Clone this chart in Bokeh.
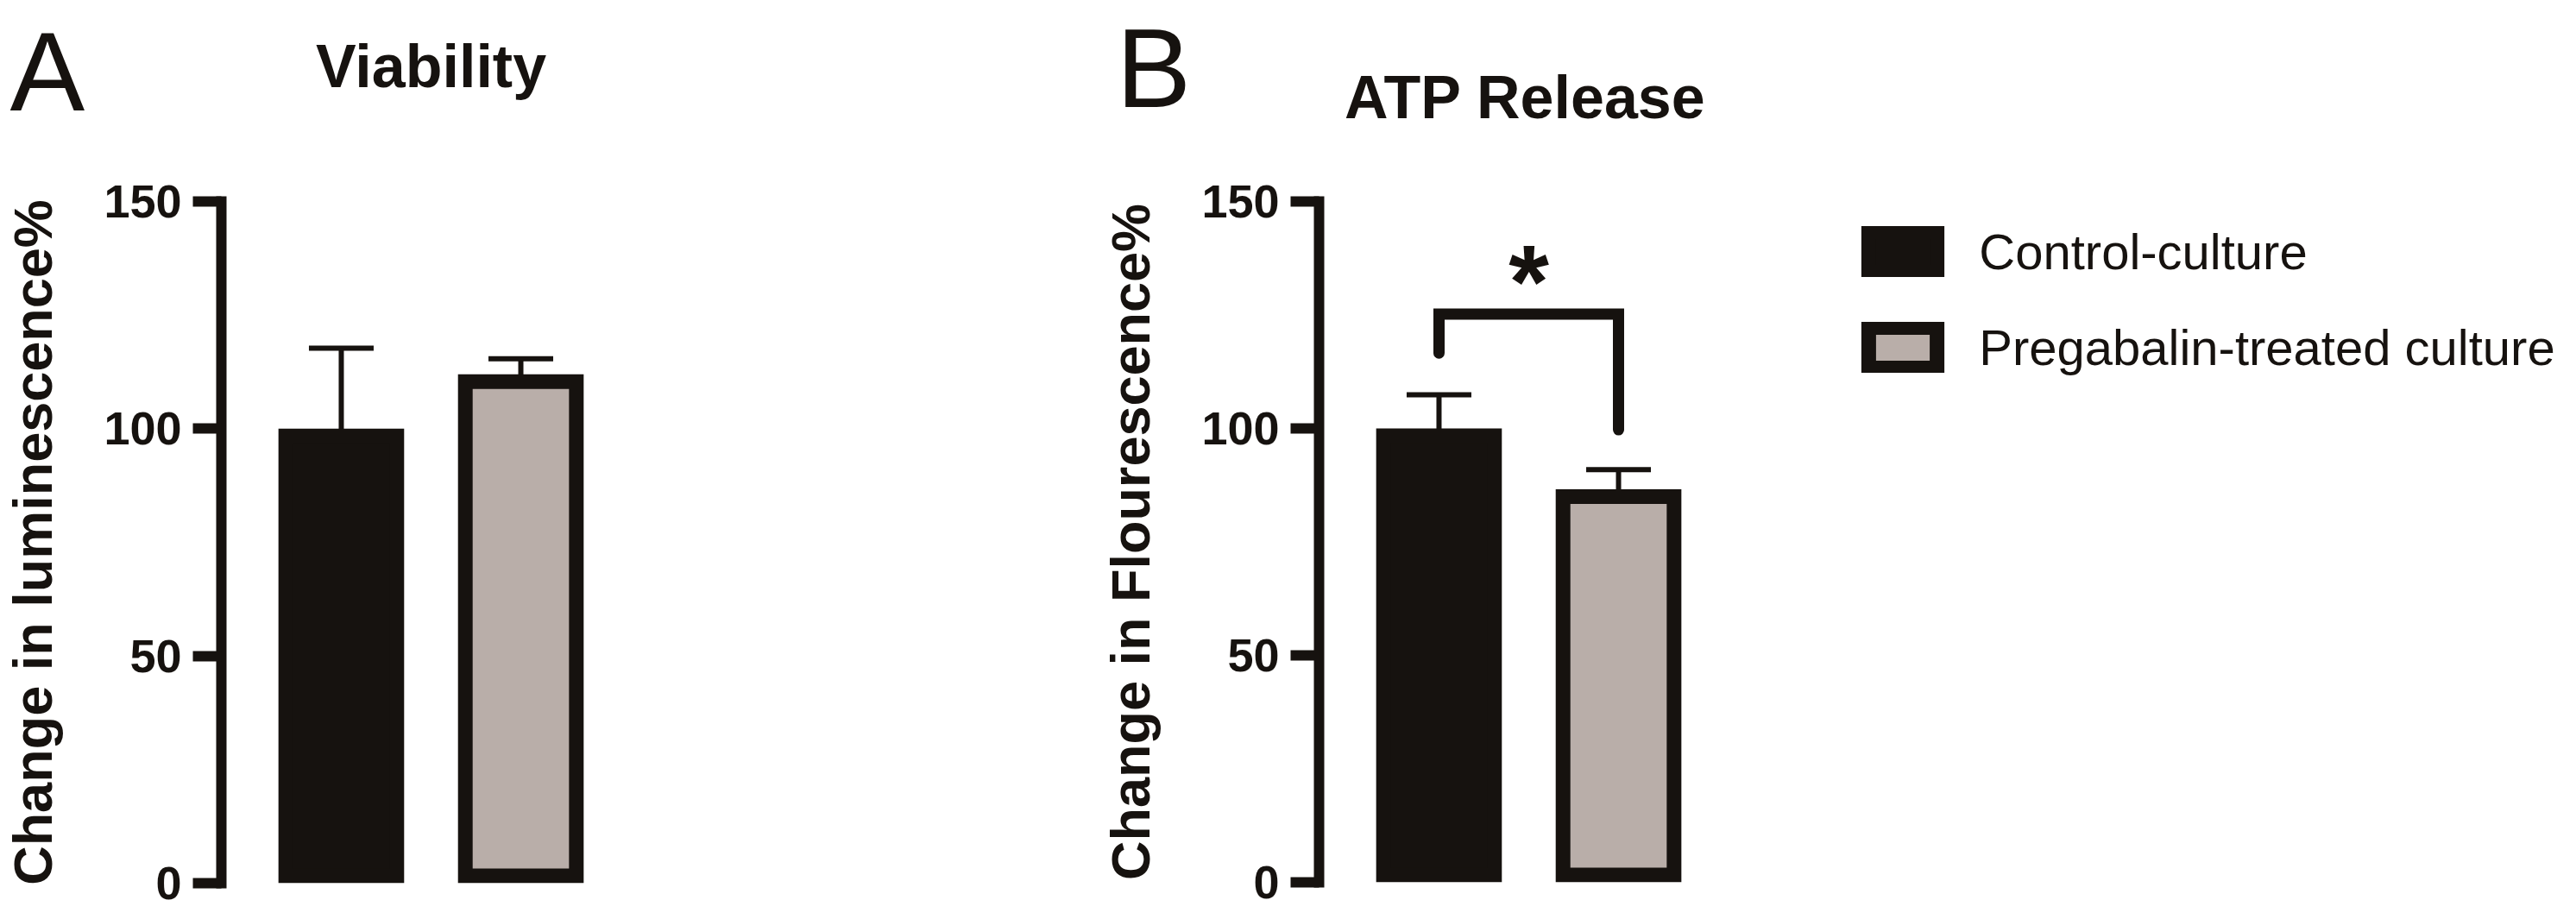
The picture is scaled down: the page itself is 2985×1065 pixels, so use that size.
from bokeh.plotting import figure
from bokeh.models import (FactorRange, Range1d, FixedTicker, ColumnDataSource,
                          Whisker, TeeHead, Label, Legend, LegendItem)
from bokeh.layouts import row
from bokeh.embed import file_html
from bokeh.resources import INLINE
from bokeh.core.properties import value

# data
groups = ["Control-culture", "Pregabalin-treated culture"]
viability = [100.0, 112.0]
viability_err = [17.7, 3.4]
atp = [100.0, 86.6]
atp_err = [7.4, 4.3]
y_ticks = [0, 50, 100, 150]

# significance bracket of the ATP panel
bracket_y = [116.6, 125.2, 125.2, 99.7]
star_y = 132.5

INK = "#16120f"
FILLS = [INK, "#b9aea9"]
FONT = "Liberation Sans"
BAR_W = 0.7
BORDER = 17
PAD = 0.168
FRAME_W = 486
FIG_H = 1052


def make_panel(title, ylabel, means, errs, width, frame_left, frame_top, frame_h,
               title_x, title_y, label_gap):
    p = figure(x_range=FactorRange(factors=groups, range_padding=PAD,
                                   range_padding_units="absolute"),
               y_range=Range1d(0, 150),
               frame_width=FRAME_W, frame_height=frame_h,
               min_border_left=frame_left, min_border_top=frame_top,
               min_border_right=width - frame_left - FRAME_W,
               min_border_bottom=FIG_H - frame_top - frame_h,
               x_axis_location=None,
               output_backend="svg", toolbar_location=None)
    p.outline_line_color = None
    p.grid.visible = False

    # pixel per data unit, used to keep the thick border inside the bar
    ppx = FRAME_W / (len(groups) + 2 * PAD)
    ppy = frame_h / 150
    src = ColumnDataSource(dict(
        g=groups,
        top=[m - BORDER / 2 / ppy for m in means],
        bottom=[BORDER / 2 / ppy] * len(means),
        upper=[m + e for m, e in zip(means, errs)],
        lower=[m - e for m, e in zip(means, errs)],
        fill=FILLS,
    ))
    bars = p.vbar(x="g", top="top", bottom="bottom", width=BAR_W - BORDER / ppx,
                  fill_color="fill", line_color=INK, line_width=BORDER,
                  line_join="miter", source=src)

    p.add_layout(Whisker(base="g", upper="upper", lower="lower", source=src,
                         line_color=INK, line_width=6,
                         upper_head=TeeHead(size=75, line_color=INK, line_width=6),
                         lower_head=TeeHead(size=75, line_color=INK, line_width=6)))

    ax = p.yaxis[0]
    ax.ticker = FixedTicker(ticks=y_ticks)
    ax.minor_tick_line_color = None
    ax.axis_line_color = INK
    ax.axis_line_width = 12
    ax.axis_line_cap = "square"
    ax.major_tick_line_color = INK
    ax.major_tick_line_width = 12
    ax.major_tick_out = 33
    ax.major_tick_in = 0
    ax.major_label_standoff = 13
    ax.major_label_text_font = FONT
    ax.major_label_text_font_style = "bold"
    ax.major_label_text_font_size = "54px"
    ax.major_label_text_color = INK
    ax.axis_label = ylabel
    ax.axis_label_text_font = FONT
    ax.axis_label_text_font_style = "bold"
    ax.axis_label_text_font_size = "63px"
    ax.axis_label_text_color = INK
    ax.axis_label_standoff = label_gap

    # panel title, kept in the panel above the frame (not clipped there)
    p.add_layout(Label(x=title_x, y=title_y, x_units="screen", y_units="screen",
                       text=title, text_font=FONT, text_font_style="bold",
                       text_font_size="70px", text_color=INK,
                       text_align="center", text_baseline="alphabetic"), "above")
    return p, bars


def panel_letter(text, x, y):
    return Label(x=x, y=y, x_units="screen", y_units="screen", text=text,
                 text_font=FONT, text_font_size="130px",
                 text_color=INK, text_baseline="alphabetic")


pA, _ = make_panel("Viability", "Change in luminescence%", viability, viability_err,
                   1259, 243, 229, 790, 243, 157, 44)
pA.add_layout(panel_letter("A", -731, 941), "right")

pB, barsB = make_panel("ATP Release", "Change in Flourescence%", atp, atp_err,
                       1710, 250, 233, 789, 239, 121, 44)
pB.add_layout(panel_letter("B", -721, 944), "right")

# significance bracket and star between the two bars
pB.line(x=[groups[0], groups[0], groups[1], groups[1]], y=bracket_y,
        line_color=INK, line_width=13, line_cap="round", line_join="miter")
pB.text(x=[len(groups) / 2], y=[star_y], text=["*"],
        text_font=value(FONT), text_font_style="bold", text_font_size="120px",
        text_align="center", text_baseline="alphabetic", text_color=INK)

legend = Legend(items=[LegendItem(label=groups[i], renderers=[barsB], index=i)
                       for i in range(len(groups))],
                location=(-146, 586), glyph_width=99, glyph_height=59,
                label_standoff=39, spacing=44, padding=0, margin=0,
                border_line_color=None, background_fill_alpha=0,
                label_text_font=FONT, label_text_font_size="58px",
                label_text_color=INK)
pB.add_layout(legend, "right")

layout = row(pA, pB)
open("out.html", "w").write(file_html(layout, INLINE))
